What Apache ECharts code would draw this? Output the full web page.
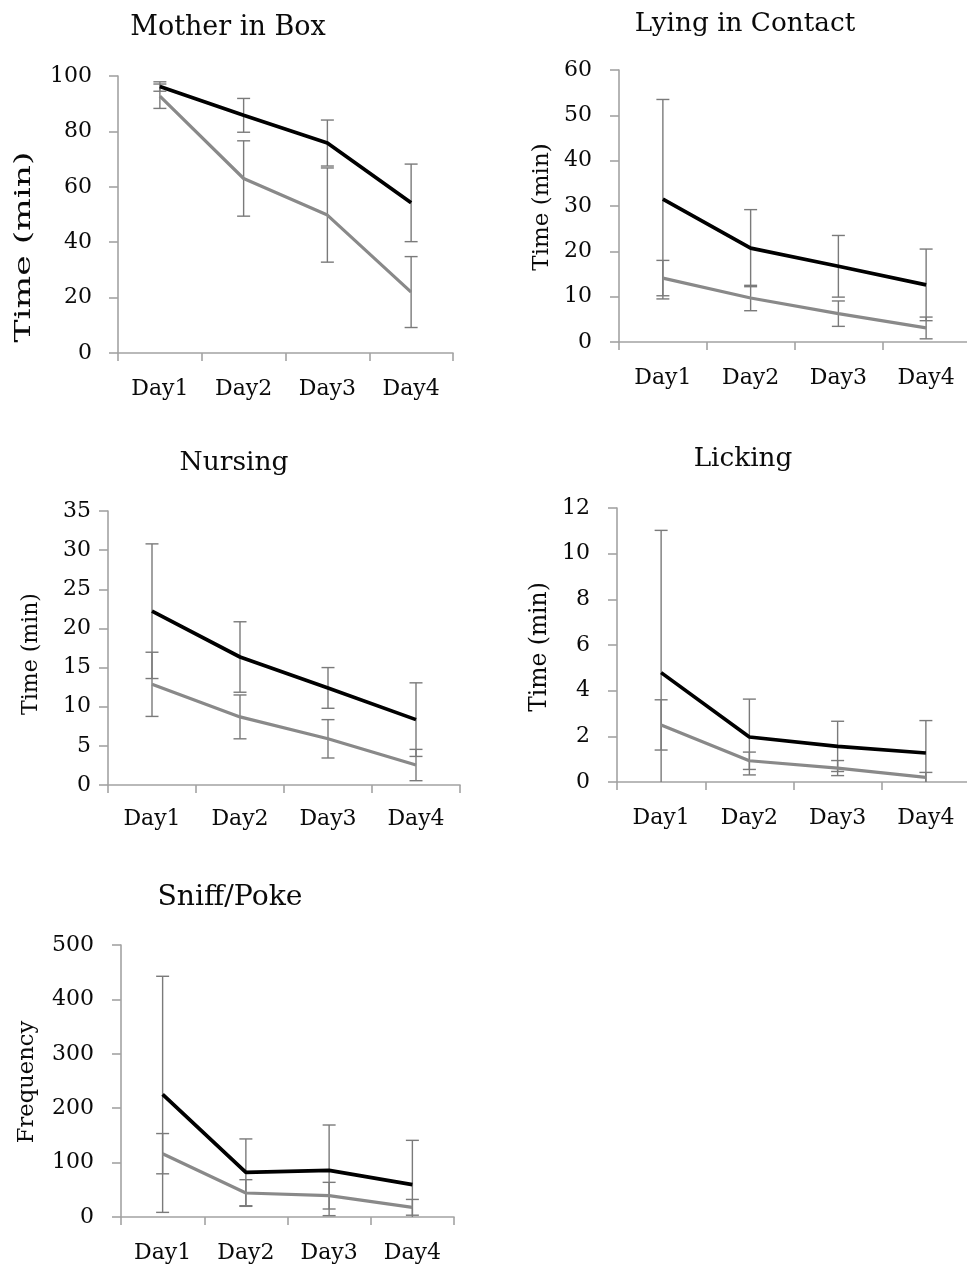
<!DOCTYPE html>
<html><head><meta charset="utf-8">
<script src="https://cdn.jsdelivr.net/npm/echarts@6/dist/echarts.min.js"></script>
<style>html,body{margin:0;padding:0;background:#fff}#c{width:967px;height:1268px}</style>
</head><body><div id="c"></div>
<script>
// ---------- DATA ----------
const categories = ['Day1', 'Day2', 'Day3', 'Day4'];
const panelTitles = ['Mother in Box', 'Lying in Contact', 'Nursing', 'Licking', 'Sniff/Poke'];
const yAxisNames = ['Time (min)', 'Time (min)', 'Time (min)', 'Time (min)', 'Frequency'];
const yMaxValues = [100, 60, 35, 12, 500];
const yStepValues = [20, 10, 5, 2, 100];

const motherBlack = [96.2, 85.8, 75.8, 54.2];
const motherBlackErr = [1.7, 6.1, 8.3, 14];
const motherGray = [92.7, 63, 49.8, 22];
const motherGrayErr = [4.4, 13.6, 17, 12.8];

const lyingBlack = [31.5, 20.7, 16.7, 12.6];
const lyingBlackErr = [22, 8.5, 6.8, 7.9];
const lyingGray = [14.1, 9.7, 6.25, 3.1];
const lyingGrayErr = [3.9, 2.8, 2.8, 2.4];

const nursingBlack = [22.2, 16.35, 12.4, 8.35];
const nursingBlackErr = [8.6, 4.5, 2.6, 4.7];
const nursingGray = [12.86, 8.7, 5.9, 2.55];
const nursingGrayErr = [4.1, 2.8, 2.45, 2.0];

const lickingBlack = [4.79, 1.97, 1.56, 1.27];
const lickingBlackErr = [6.23, 1.66, 1.1, 1.42];
const lickingGray = [2.5, 0.93, 0.61, 0.2];
const lickingGrayErr = [1.1, 0.38, 0.33, 0.22];

const sniffBlack = [225.5, 82.1, 85.8, 59.4];
const sniffBlackErr = [217, 61.4, 83.3, 81.5];
const sniffGray = [116.4, 44.1, 39.2, 17.8];
const sniffGrayErr = [37, 24.5, 24.5, 14.5];

const blackSeries = [motherBlack, lyingBlack, nursingBlack, lickingBlack, sniffBlack];
const blackErrs = [motherBlackErr, lyingBlackErr, nursingBlackErr, lickingBlackErr, sniffBlackErr];
const graySeries = [motherGray, lyingGray, nursingGray, lickingGray, sniffGray];
const grayErrs = [motherGrayErr, lyingGrayErr, nursingGrayErr, lickingGrayErr, sniffGrayErr];

// ---------- LAYOUT ----------
const layout = [
  {grid: {left: 118, top: 76, width: 335, height: 277}, title: [228, 28, 27], yName: [24, 247, 23, 1.5], labelMargin: 26, xMargin: 25},
  {grid: {left: 619, top: 70, width: 351, height: 272}, title: [745, 24, 26.3], yName: [542, 207, 23, 1], labelMargin: 27, xMargin: 25},
  {grid: {left: 108, top: 511, width: 352, height: 274}, title: [234, 463, 26.5], yName: [31, 654, 22, 1], labelMargin: 17, xMargin: 23},
  {grid: {left: 617, top: 508, width: 353, height: 274}, title: [743, 459, 26.3], yName: [540, 647, 23.4, 1], labelMargin: 27, xMargin: 25},
  {grid: {left: 121, top: 945, width: 333, height: 272}, title: [230, 898, 28.3], yName: [27, 1082, 22.7, 1], labelMargin: 27, xMargin: 25}
];

const FONT = 'DejaVu Serif';
const AXIS_COLOR = '#a3a3a3';
const TEXT_COLOR = '#0a0a0a';

function errRender(params, api) {
  const x = api.value(0), lo = api.value(1), hi = api.value(2);
  const pHi = api.coord([x, hi]);
  const pLo = api.coord([x, Math.max(lo, 0)]);
  const hw = 6.5;
  const st = {stroke: '#7a7a7a', lineWidth: 1.4};
  const children = [
    {type: 'line', shape: {x1: pHi[0], y1: pHi[1], x2: pLo[0], y2: pLo[1]}, style: st},
    {type: 'line', shape: {x1: pHi[0] - hw, y1: pHi[1], x2: pHi[0] + hw, y2: pHi[1]}, style: st}
  ];
  if (lo >= 0) children.push({type: 'line', shape: {x1: pLo[0] - hw, y1: pLo[1], x2: pLo[0] + hw, y2: pLo[1]}, style: st});
  return {type: 'group', children};
}

const grids = [], xAxes = [], yAxes = [], series = [], graphics = [];
layout.forEach((L, i) => {
  grids.push(Object.assign({containLabel: false, outerBoundsMode: 'none'}, L.grid));
  xAxes.push({
    type: 'category', gridIndex: i, data: categories, boundaryGap: true,
    axisLine: {show: true, lineStyle: {color: AXIS_COLOR, width: 1.6}},
    axisTick: {show: true, length: 8, interval: 0, lineStyle: {color: AXIS_COLOR, width: 1.6}},
    axisLabel: {fontFamily: FONT, fontSize: 22, color: TEXT_COLOR, margin: L.xMargin, interval: 0},
    splitLine: {show: false}
  });
  yAxes.push({
    type: 'value', gridIndex: i, min: 0, max: yMaxValues[i], interval: yStepValues[i],
    axisLine: {show: true, lineStyle: {color: AXIS_COLOR, width: 1.6}},
    axisTick: {show: true, length: 9, lineStyle: {color: AXIS_COLOR, width: 1.6}},
    axisLabel: {fontFamily: FONT, fontSize: 22, color: TEXT_COLOR, margin: L.labelMargin},
    splitLine: {show: false}
  });
  const errData = (vals, errs) => vals.map((v, k) => [k, v - errs[k], v + errs[k]]);
  series.push({
    type: 'custom', xAxisIndex: i, yAxisIndex: i, renderItem: errRender, z: 1, silent: true,
    encode: {x: 0, y: [1, 2]}, data: errData(graySeries[i], grayErrs[i])
  });
  series.push({
    type: 'custom', xAxisIndex: i, yAxisIndex: i, renderItem: errRender, z: 1, silent: true,
    encode: {x: 0, y: [1, 2]}, data: errData(blackSeries[i], blackErrs[i])
  });
  series.push({
    type: 'line', xAxisIndex: i, yAxisIndex: i, data: graySeries[i], symbol: 'none', z: 3,
    lineStyle: {color: '#898989', width: 3.2}, itemStyle: {color: '#898989'}, animation: false
  });
  series.push({
    type: 'line', xAxisIndex: i, yAxisIndex: i, data: blackSeries[i], symbol: 'none', z: 4,
    lineStyle: {color: '#000000', width: 3.7}, itemStyle: {color: '#000'}, animation: false
  });
  graphics.push({
    type: 'text', x: L.title[0], y: L.title[1],
    style: {text: panelTitles[i], font: L.title[2] + 'px "' + FONT + '"', fill: TEXT_COLOR, align: 'center', verticalAlign: 'middle'}
  });
  graphics.push({
    type: 'text', x: L.yName[0], y: L.yName[1], rotation: Math.PI / 2, scaleX: L.yName[3],
    style: {text: yAxisNames[i], font: L.yName[2] + 'px "' + FONT + '"', fill: TEXT_COLOR, align: 'center', verticalAlign: 'middle'}
  });
});

const chart = echarts.init(document.getElementById('c'), null, {renderer: 'canvas'});
chart.setOption({
  animation: false,
  backgroundColor: '#ffffff',
  grid: grids, xAxis: xAxes, yAxis: yAxes, series: series, graphic: graphics
});
</script></body></html>
